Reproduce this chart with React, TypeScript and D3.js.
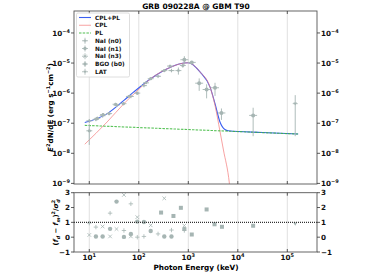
import React, { useRef, useEffect } from "react"
import * as d3 from "d3"

// model curves (keV, erg s^-1 cm^-2)
const cplpl_E = [8.1, 23.1, 50.1, 79.4, 174, 437, 813, 1000, 1738, 2754, 3467, 4365, 5495, 6457, 31623, 165959]
const cplpl_F = [1.05e-7, 2.09e-7, 5.75e-7, 1.10e-6, 3.02e-6, 7.24e-6, 1.0e-5, 1.02e-5, 5.01e-6, 1.58e-6, 4.47e-7, 1.10e-7, 6.17e-8, 5.62e-8, 4.9e-8, 4.37e-8]
const cpl_E = [8.1, 22.9, 50.1, 89.1, 174, 437, 813, 1000, 1738, 2754, 3467, 4365, 5129, 6761, 8000]
const cpl_F = [2.0e-8, 1.10e-7, 4.47e-7, 1.12e-6, 3.02e-6, 7.24e-6, 1.0e-5, 1.02e-5, 5.01e-6, 1.58e-6, 3.89e-7, 5.37e-8, 1.29e-8, 1.0e-9, 5e-11]
const pl_E = [8.1, 165959]
const pl_F = [8.5e-8, 4.37e-8]

// spectral points per detector
const n0_E = [10, 18.6, 35.5, 69.2, 127, 245, 457]
const n0_F = [1.2e-7, 1.78e-7, 3.98e-7, 7.76e-7, 1.78e-6, 3.63e-6, 5.62e-6]
const n0_err = [1.8e-8, 2.2e-8, 4.5e-8, 8e-8, 1.8e-7, 3.5e-7, 6e-7]
const n1_E = [10, 14.5, 25.1, 49, 93.3, 174, 327, 776]
const n1_F = [5.6e-8, 1.45e-7, 2.09e-7, 4.47e-7, 1.0e-6, 3.02e-6, 5.62e-6, 8.3e-6]
const n1_err = [3.7e-8, 2e-8, 2.5e-8, 5e-8, 1.1e-7, 3e-7, 6e-7, 1.3e-6]
const n3_E = [13.6, 19, 33.9, 63.1, 140, 427, 631]
const n3_F = [1.35e-7, 1.95e-7, 4.27e-7, 7.76e-7, 2.2e-6, 7.94e-6, 5.62e-6]
const n3_err = [1.8e-8, 2.2e-8, 4.5e-8, 8e-8, 2e-7, 8e-7, 1.5e-6]
const b0_E = [832, 1175, 1660, 2344, 3467, 4677, 20417]
const b0_F = [1.29e-5, 1.05e-5, 2.14e-6, 1.32e-6, 1.51e-6, 2.19e-7, 1.82e-7]
const b0_err = [4e-6, 1e-6, 9.5e-7, 6.5e-7, 7e-7, 9e-8, 1.45e-7]
const lat_E = [144544]
const lat_F = [4.47e-7]
const lat_err = [4.1e-7]

// residuals (f_d - f_m)^2 / sigma_d^2
const n0_rE = [10, 13.6, 26.3, 50.1, 69.2, 93.3, 127, 245, 457, 832]
const n0_r = [0.95, 0.68, 1.62, 0.45, 2.25, 0.0, 0.05, 0.22, 0.48, 0.45]
const n1_rE = [13.6, 18.6, 26.3, 35.5, 50.1, 69.2, 93.3, 127, 174, 327, 457, 832]
const n1_r = [0.05, 0.05, 0.56, 2.4, 0.02, 0.22, 1.05, 1.02, 0.42, 0.05, 0.05, 0.55]
const n3_rE = [10, 18.6, 26.3, 35.5, 50.1, 69.2, 93.3, 174, 327, 832]
const n3_r = [0.15, 0.72, 0.05, 0.55, 2.85, 0.05, 1.35, 0.8, 2.62, 0.78]
const b0_rE = [282, 501, 708, 1175, 2344, 3388, 4786, 20417]
const b0_r = [1.66, 1.43, 1.98, 0.18, 1.87, 0.87, 0.7, 0.77]
const lat_rE = [144544]
const lat_r = [0.9]

const yTicks = [-9, -8, -7, -6, -5, -4]
const xTicks = [1, 2, 3, 4, 5]
const rTicks = [-1, 0, 1, 2, 3]

const sup = (n: number) => (n < 0 ? "\u2212" + Math.abs(n) : String(n))

const App: React.FC = () => {
  const svgRef = useRef<SVGSVGElement>(null)

  useEffect(() => {
    if (!svgRef.current) return
    const svg = d3.select(svgRef.current)
    svg.selectAll("*").remove()

    const L = 74, R = 317, T1 = 11, B1 = 184, T2 = 192.7, B2 = 252
    const x = d3.scaleLog().domain([Math.pow(10, 0.691), Math.pow(10, 5.6)]).range([L, R])
    const y = d3.scaleLog().domain([Math.pow(10, -9.02), Math.pow(10, -3.27)]).range([B1, T1])
    const yr = d3.scaleLinear().domain([-1, 3]).range([B2, T2])

    const font = "DejaVu Sans"
    const grey = "#a6b5b3"

    svg.append("defs").append("clipPath").attr("id", "clipMain")
      .append("rect").attr("x", L).attr("y", T1).attr("width", R - L).attr("height", B1 - T1)

    // grid
    for (const [t, b] of [[T1, B1], [T2, B2]]) {
      svg.append("g").selectAll("line").data(xTicks).enter().append("line")
        .attr("x1", d => x(Math.pow(10, d))).attr("x2", d => x(Math.pow(10, d)))
        .attr("y1", t).attr("y2", b).attr("stroke", "#dcdcdc").attr("stroke-width", 0.9)
    }

    // curves
    const g = svg.append("g").attr("clip-path", "url(#clipMain)")
    const line = d3.line<[number, number]>().x(d => x(d[0])).y(d => y(d[1])).curve(d3.curveMonotoneX)
    g.append("path").attr("d", line(cplpl_E.map((e, i) => [e, cplpl_F[i]]))!)
      .attr("fill", "none").attr("stroke", "#3a5ef0").attr("stroke-width", 1.1)
    g.append("path").attr("d", line(cpl_E.map((e, i) => [e, cpl_F[i]]))!)
      .attr("fill", "none").attr("stroke", "#f47a7a").attr("stroke-opacity", 0.7).attr("stroke-width", 1)
    g.append("path").attr("d", line(pl_E.map((e, i) => [e, pl_F[i]]))!)
      .attr("fill", "none").attr("stroke", "#3cb83c").attr("stroke-opacity", 0.85)
      .attr("stroke-width", 1.1).attr("stroke-dasharray", "2.5,1.2")

    const marker = (sel: any, kind: string, cx: number, cy: number, s: number) => {
      if (kind === "+") {
        sel.append("path").attr("d", `M${cx - s},${cy}H${cx + s}M${cx},${cy - s}V${cy + s}`)
          .attr("stroke", grey).attr("stroke-width", 0.8)
      } else if (kind === "x") {
        sel.append("path").attr("d", `M${cx - s},${cy - s}L${cx + s},${cy + s}M${cx - s},${cy + s}L${cx + s},${cy - s}`)
          .attr("stroke", grey).attr("stroke-width", 0.8)
      } else if (kind === "o") {
        sel.append("circle").attr("cx", cx).attr("cy", cy).attr("r", s).attr("fill", grey)
      } else if (kind === "s") {
        sel.append("rect").attr("x", cx - s).attr("y", cy - s).attr("width", 2 * s).attr("height", 2 * s).attr("fill", grey)
      } else if (kind === "v") {
        sel.append("path").attr("d", `M${cx - s},${cy - s * 0.7}L${cx + s},${cy - s * 0.7}L${cx},${cy + s}Z`).attr("fill", grey)
      }
    }

    const dets = [
      { E: n0_E, F: n0_F, err: n0_err, k: "+", s: 1.8, w: 0.06 },
      { E: n1_E, F: n1_F, err: n1_err, k: "o", s: 1.6, w: 0.06 },
      { E: n3_E, F: n3_F, err: n3_err, k: "o", s: 1.4, w: 0.06 },
      { E: b0_E, F: b0_F, err: b0_err, k: "o", s: 2.0, w: 0.08 },
      { E: lat_E, F: lat_F, err: lat_err, k: "v", s: 1.8, w: 0.05 },
    ]
    const pts = svg.append("g")
    dets.forEach(d => {
      d.E.forEach((e, i) => {
        const cx = x(e), cy = y(d.F[i])
        const lo = Math.max(d.F[i] - d.err[i], 1e-10)
        pts.append("line").attr("x1", cx).attr("x2", cx).attr("y1", y(lo)).attr("y2", y(d.F[i] + d.err[i]))
          .attr("stroke", grey).attr("stroke-width", 0.9)
        pts.append("line").attr("x1", x(e * Math.pow(10, -d.w))).attr("x2", x(e * Math.pow(10, d.w)))
          .attr("y1", cy).attr("y2", cy).attr("stroke", grey).attr("stroke-width", 0.9)
        marker(pts, d.k, cx, cy, d.s)
      })
    })

    // residuals
    const rg = svg.append("g")
    const rdets = [
      { E: n0_rE, v: n0_r, k: "+", s: 2.2 },
      { E: n1_rE, v: n1_r, k: "o", s: 2.2 },
      { E: n3_rE, v: n3_r, k: "x", s: 1.8 },
      { E: b0_rE, v: b0_r, k: "s", s: 2.0 },
      { E: lat_rE, v: lat_r, k: "v", s: 2.0 },
    ]
    rdets.forEach(d => d.E.forEach((e, i) => marker(rg, d.k, x(e), yr(d.v[i]), d.s)))
    svg.append("line").attr("x1", L).attr("x2", R).attr("y1", yr(1)).attr("y2", yr(1))
      .attr("stroke", "#333").attr("stroke-width", 1.1).attr("stroke-dasharray", "1,1")

    // frames
    for (const [t, b] of [[T1, B1], [T2, B2]]) {
      svg.append("rect").attr("x", L).attr("y", t).attr("width", R - L).attr("height", b - t)
        .attr("fill", "none").attr("stroke", "#555").attr("stroke-width", 0.9)
    }

    const tickTxt = (sel: any, tx: number, ty: number, anchor: string, base: string, ex: string | null) => {
      const t = sel.append("text").attr("x", tx).attr("y", ty).attr("text-anchor", anchor)
        .attr("font-family", font).attr("font-weight", "bold").attr("font-size", 7.2).attr("fill", "#111")
      t.append("tspan").text(base)
      if (ex !== null) t.append("tspan").attr("dy", -3).attr("font-size", 5).text(ex)
    }

    const ax = svg.append("g")
    // main y ticks
    yTicks.forEach(p => {
      const ty = y(Math.pow(10, p))
      ax.append("line").attr("x1", L - 3).attr("x2", L).attr("y1", ty).attr("y2", ty).attr("stroke", "#333").attr("stroke-width", 0.8)
      ax.append("line").attr("x1", R).attr("x2", R + 3).attr("y1", ty).attr("y2", ty).attr("stroke", "#333").attr("stroke-width", 0.8)
      tickTxt(ax, L - 4, ty + 3, "end", "10", sup(p))
      tickTxt(ax, R + 4, ty + 3, "start", "10", sup(p))
    })
    // residual y ticks
    rTicks.forEach(v => {
      const ty = yr(v)
      ax.append("line").attr("x1", L - 3).attr("x2", L).attr("y1", ty).attr("y2", ty).attr("stroke", "#333").attr("stroke-width", 0.8)
      ax.append("line").attr("x1", R).attr("x2", R + 3).attr("y1", ty).attr("y2", ty).attr("stroke", "#333").attr("stroke-width", 0.8)
      tickTxt(ax, L - 4, ty + 2.6, "end", sup(v), null)
      tickTxt(ax, R + 4, ty + 2.6, "start", sup(v), null)
    })
    // x ticks
    xTicks.forEach(p => {
      const tx = x(Math.pow(10, p))
      for (const [t, b] of [[T1, B1], [T2, B2]]) {
        ax.append("line").attr("x1", tx).attr("x2", tx).attr("y1", t).attr("y2", t + 3).attr("stroke", "#333").attr("stroke-width", 0.8)
        ax.append("line").attr("x1", tx).attr("x2", tx).attr("y1", b - 3).attr("y2", b).attr("stroke", "#333").attr("stroke-width", 0.8)
      }
      tickTxt(ax, tx, B2 + 8, "middle", "10", String(p))
    })

    // labels
    svg.append("text").attr("x", 196).attr("y", 8.5).attr("text-anchor", "middle")
      .attr("font-family", font).attr("font-weight", "bold").attr("font-size", 7.5).text("GRB 090228A @ GBM T90")
    svg.append("text").attr("x", 196).attr("y", 269.5).attr("text-anchor", "middle")
      .attr("font-family", font).attr("font-weight", "bold").attr("font-size", 7.3).text("Photon Energy (keV)")

    const yl = svg.append("text").attr("transform", `translate(53,${(T1 + B1) / 2 + 10}) rotate(-90)`)
      .attr("text-anchor", "middle").attr("font-family", font).attr("font-weight", "bold").attr("font-size", 7.2)
    yl.append("tspan").attr("font-style", "italic").text("E")
    yl.append("tspan").attr("dy", -3).attr("font-size", 5).text("2")
    yl.append("tspan").attr("dy", 3).text("dN/dE (erg s")
    yl.append("tspan").attr("dy", -3).attr("font-size", 5).text("\u22121")
    yl.append("tspan").attr("dy", 3).text("cm")
    yl.append("tspan").attr("dy", -3).attr("font-size", 5).text("\u22122")
    yl.append("tspan").attr("dy", 3).text(")")

    const rl = svg.append("text").attr("transform", `translate(58,${(T2 + B2) / 2}) rotate(-90)`)
      .attr("text-anchor", "middle").attr("font-family", font).attr("font-weight", "bold").attr("font-size", 6.8)
    rl.append("tspan").text("(")
    rl.append("tspan").attr("font-style", "italic").text("f")
    rl.append("tspan").attr("dy", 1.5).attr("font-size", 4.8).attr("font-style", "italic").text("d")
    rl.append("tspan").attr("dy", -1.5).text(" \u2212 ")
    rl.append("tspan").attr("font-style", "italic").text("f")
    rl.append("tspan").attr("dy", 1.5).attr("font-size", 4.8).attr("font-style", "italic").text("m")
    rl.append("tspan").attr("dy", -1.5).text(")")
    rl.append("tspan").attr("dy", -3).attr("font-size", 4.8).text("2")
    rl.append("tspan").attr("dy", 3).text("/")
    rl.append("tspan").attr("font-style", "italic").text("\u03c3")
    rl.append("tspan").attr("dy", -3).attr("font-size", 4.8).text("2")
    rl.append("tspan").attr("dx", -2.8).attr("dy", 4.5).attr("font-size", 4.8).attr("font-style", "italic").text("d")

    // legend
    const lg = svg.append("g")
    lg.append("rect").attr("x", 76.5).attr("y", 13).attr("width", 53).attr("height", 64).attr("rx", 1.5)
      .attr("fill", "white").attr("fill-opacity", 0.85).attr("stroke", "#d6d6d6").attr("stroke-width", 0.8)
    const items = ["CPL+PL", "CPL", "PL", "NaI (n0)", "NaI (n1)", "NaI (n3)", "BGO (b0)", "LAT"]
    items.forEach((name, i) => {
      const ly = 17.5 + i * 7.75
      if (i === 0) lg.append("line").attr("x1", 79).attr("x2", 91).attr("y1", ly).attr("y2", ly).attr("stroke", "#3a5ef0").attr("stroke-width", 1.1)
      if (i === 1) lg.append("line").attr("x1", 79).attr("x2", 91).attr("y1", ly).attr("y2", ly).attr("stroke", "#f47a7a").attr("stroke-opacity", 0.7)
      if (i === 2) lg.append("line").attr("x1", 79).attr("x2", 91).attr("y1", ly).attr("y2", ly).attr("stroke", "#3cb83c").attr("stroke-opacity", 0.6).attr("stroke-width", 1.3).attr("stroke-dasharray", "2.5,1.2")
      if (i >= 3) {
        const kinds = ["+", "o", "x", "o", "v"]
        lg.append("line").attr("x1", 85).attr("x2", 85).attr("y1", ly - 3).attr("y2", ly + 3).attr("stroke", grey).attr("stroke-width", 0.8)
        lg.append("line").attr("x1", 82).attr("x2", 88).attr("y1", ly).attr("y2", ly).attr("stroke", grey).attr("stroke-width", 0.8)
        marker(lg, kinds[i - 3], 85, ly, kinds[i - 3] === "o" ? 1.7 : 1.6)
      }
      lg.append("text").attr("x", 95).attr("y", ly + 2.2).attr("font-family", font).attr("font-weight", "bold")
        .attr("font-size", 5.8).attr("fill", "#111").text(name)
    })
  }, [])

  return (
    <svg ref={svgRef} width={374} height={280} style={{ position: "absolute", left: 0, top: 0, background: "white" }} />
  )
}

export default App
